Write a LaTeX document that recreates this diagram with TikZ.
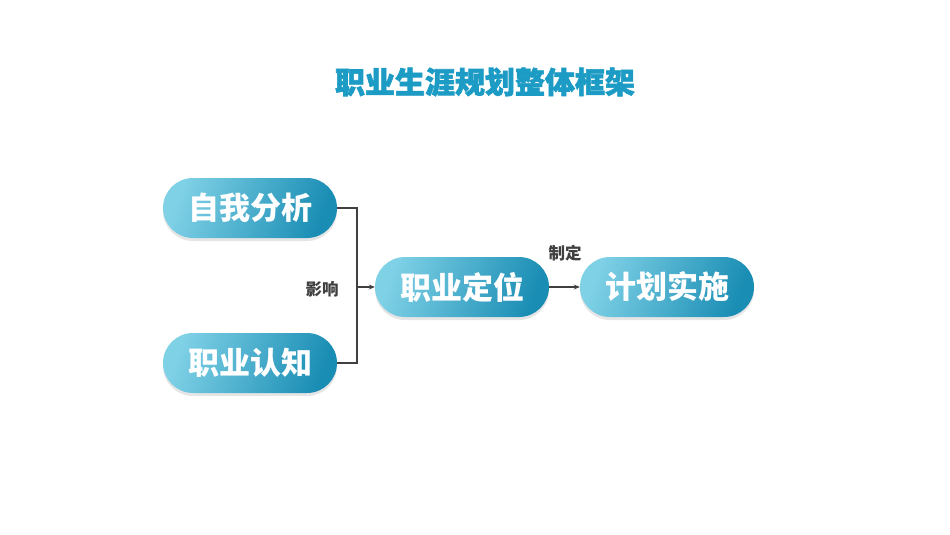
\documentclass[tikz,border=0pt]{standalone}
\usepackage{fontspec}
\setmainfont{Noto Sans CJK SC}
\newfontfamily\titlefont{Noto Sans CJK SC}[BoldFeatures={FakeBold=2}]
\usetikzlibrary{shadows,arrows.meta}
\definecolor{pilllight}{HTML}{7FD1E6}
\definecolor{pilldark}{HTML}{1A8DB4}
\definecolor{titleblue}{HTML}{1C9BC4}
\definecolor{linegray}{HTML}{404040}
\tikzset{
  pill/.style={rounded corners=30pt, minimum width=174pt, minimum height=60pt,
    inner sep=0pt, left color=pilllight, right color=pilldark, shading angle=70,
    draw=none, text=white, font=\fontsize{31}{31}\selectfont\bfseries,
    drop shadow={shadow xshift=0pt, shadow yshift=-3pt, opacity=0.2}},
  lbl/.style={text=linegray, font=\fontsize{16.5}{16.5}\selectfont\bfseries},
  conn/.style={draw=linegray, line width=1.6pt},
  arr/.style={conn, -{Stealth[length=6pt,width=5pt]}}
}
\begin{document}
\begin{tikzpicture}[x=1pt,y=-1pt]
\useasboundingbox[fill=white] (0,0) rectangle (950,535);
\node[text=titleblue, font=\fontsize{30}{30}\titlefont\bfseries] (title) at (485,82) {职业生涯规划整体框架};
\node[pill] (a) at (250,208) {自我分析};
\node[pill] (b) at (250,363) {职业认知};
\node[pill] (c) at (462,287) {职业定位};
\node[pill] (d) at (667,287) {计划实施};
\coordinate (j) at (357,287);
\draw[conn] (a.east) -- ++(20,0) coordinate (ja) |- (b.east);
\draw[arr] (j) -- (c.west);
\node[lbl] (l1) at (322,289) {影响};
\draw[arr] (c.east) -- (d.west);
\node[lbl] (l2) at (565,253) {制定};
\end{tikzpicture}
\end{document}
